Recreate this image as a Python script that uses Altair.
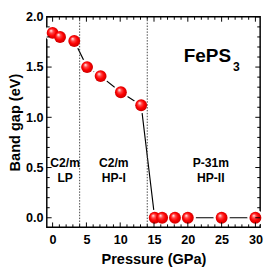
import altair as alt
import pandas as pd

# data
pressure = [0, 1.1, 3.2, 5.1, 7.1, 10.1, 13.1, 15.1, 16.2, 18.1, 20, 25, 30]
band_gap = [1.84, 1.80, 1.76, 1.50, 1.41, 1.25, 1.12, 0, 0, 0, 0, 0, 0]
boundaries = [4, 14]
phase_x = [1.85, 9.05, 23.4]
phase_name = ["C2/m", "C2/m", "P-31m"]
phase_label = ["LP", "HP-I", "HP-II"]
x_major = [0, 5, 10, 15, 20, 25, 30]
y_major = [0.0, 0.5, 1.0, 1.5, 2.0]
x_minor = [1, 2, 3, 4, 6, 7, 8, 9, 11, 12, 13, 14, 16, 17, 18, 19,
           21, 22, 23, 24, 26, 27, 28, 29]
y_minor = [0.1, 0.2, 0.3, 0.4, 0.6, 0.7, 0.8, 0.9, 1.1, 1.2, 1.3, 1.4,
           1.6, 1.7, 1.8, 1.9]

W, H = 220, 217
MAJ, MIN = 5, 3

df = pd.DataFrame({"p": pressure, "g": band_gap})
bdf = pd.DataFrame({"b": boundaries})
phdf = pd.DataFrame({"x": phase_x, "name": phase_name, "label": phase_label})

xs = alt.Scale(domain=[-0.86, 30.7], nice=False, zero=False)
ys = alt.Scale(domain=[-0.095, 2.0], nice=False, zero=False)

FONT = "Liberation Sans"

x_lab = alt.Axis(orient="bottom", values=x_major, labels=True, ticks=False,
                 domain=False, grid=False, format="d", labelPadding=7,
                 titlePadding=5, labelOverlap=False)
y_lab = alt.Axis(orient="left", values=y_major, labels=True, ticks=False,
                 domain=False, grid=False, format=".1f", labelPadding=4,
                 titleX=-25, titleBaseline="bottom", labelOverlap=False)

base = alt.Chart(df)

line = base.mark_line(color="black", strokeWidth=1.2).encode(
    x=alt.X("p:Q", scale=xs, axis=x_lab, title="Pressure (GPa)"),
    y=alt.Y("g:Q", scale=ys, axis=y_lab, title="Band gap (eV)"),
)

white = base.mark_circle(size=280, color="white", opacity=1).encode(
    x=alt.X("p:Q", scale=xs, axis=None),
    y=alt.Y("g:Q", scale=ys, axis=None),
)

rules = alt.Chart(bdf).mark_rule(color="#444444", strokeDash=[1.5, 1.5], strokeWidth=1).encode(
    x=alt.X("b:Q", scale=xs, axis=None),
)

grad = alt.RadialGradient(
    gradient="radial", x1=0.35, y1=0.3, r1=0.0, x2=0.5, y2=0.5, r2=0.55,
    stops=[
        alt.GradientStop(color="#ffffff", offset=0.0),
        alt.GradientStop(color="#ff4848", offset=0.3),
        alt.GradientStop(color="#ff0000", offset=0.6),
        alt.GradientStop(color="#c00000", offset=1.0),
    ],
)

balls = base.mark_circle(size=150, color=grad, opacity=1).encode(
    x=alt.X("p:Q", scale=xs, axis=None),
    y=alt.Y("g:Q", scale=ys, axis=None),
)


def xticks(vals, length, top):
    d = pd.DataFrame({"v": vals})
    y0 = 0 if top else H
    y1 = length if top else H - length
    return alt.Chart(d).mark_rule(color="black", strokeWidth=1).encode(
        x=alt.X("v:Q", scale=xs, axis=None),
        y=alt.value(y0), y2=alt.value(y1),
    )


def yticks(vals, length, right):
    d = pd.DataFrame({"v": vals})
    x0 = W if right else 0
    x1 = W - length if right else length
    return alt.Chart(d).mark_rule(color="black", strokeWidth=1).encode(
        y=alt.Y("v:Q", scale=ys, axis=None),
        x=alt.value(x0), x2=alt.value(x1),
    )


ticks = [
    xticks(x_major, MAJ, False), xticks(x_major, MAJ, True),
    xticks(x_minor, MIN, False), xticks(x_minor, MIN, True),
    yticks(y_major, MAJ, False), yticks(y_major, MAJ, True),
    yticks(y_minor, MIN, False), yticks(y_minor, MIN, True),
]

txt_kw = dict(font=FONT, fontWeight="bold", color="black", fontSize=12.5,
              align="center", baseline="alphabetic")

ph1 = alt.Chart(phdf).mark_text(**txt_kw).encode(
    x=alt.X("x:Q", scale=xs, axis=None),
    y=alt.Y(datum=0.51, scale=ys, axis=None),
    text="name:N",
)
ph2 = alt.Chart(phdf).mark_text(**txt_kw).encode(
    x=alt.X("x:Q", scale=xs, axis=None),
    y=alt.Y(datum=0.355, scale=ys, axis=None),
    text="label:N",
)

fe = alt.Chart(pd.DataFrame({"t": ["FePS"]})).mark_text(
    font=FONT, fontWeight="bold", color="black", fontSize=19.5,
    align="left", baseline="alphabetic").encode(
    x=alt.X(datum=19.4, scale=xs, axis=None),
    y=alt.Y(datum=1.55, scale=ys, axis=None),
    text="t:N",
)
sub = alt.Chart(pd.DataFrame({"t": ["3"]})).mark_text(
    font=FONT, fontWeight="bold", color="black", fontSize=12.5,
    align="left", baseline="alphabetic").encode(
    x=alt.X(datum=26.7, scale=xs, axis=None),
    y=alt.Y(datum=1.46, scale=ys, axis=None),
    text="t:N",
)

chart = alt.layer(
    line, white, rules, balls, *ticks, ph1, ph2, fe, sub
).resolve_axis(x="independent", y="independent").properties(
    width=W, height=H,
    autosize=alt.AutoSizeParams(type="none"),
    padding={"left": 40, "top": 5, "right": 5, "bottom": 43},
    background="white",
).configure_view(stroke="black", strokeWidth=1.5).configure_axis(
    labelFont=FONT, labelFontSize=13, labelFontWeight="bold", labelColor="black",
    titleFont=FONT, titleFontSize=15, titleFontWeight="bold", titleColor="black",
    grid=False,
)

chart.save("out.html", embed_options={"renderer": "svg", "actions": False})
